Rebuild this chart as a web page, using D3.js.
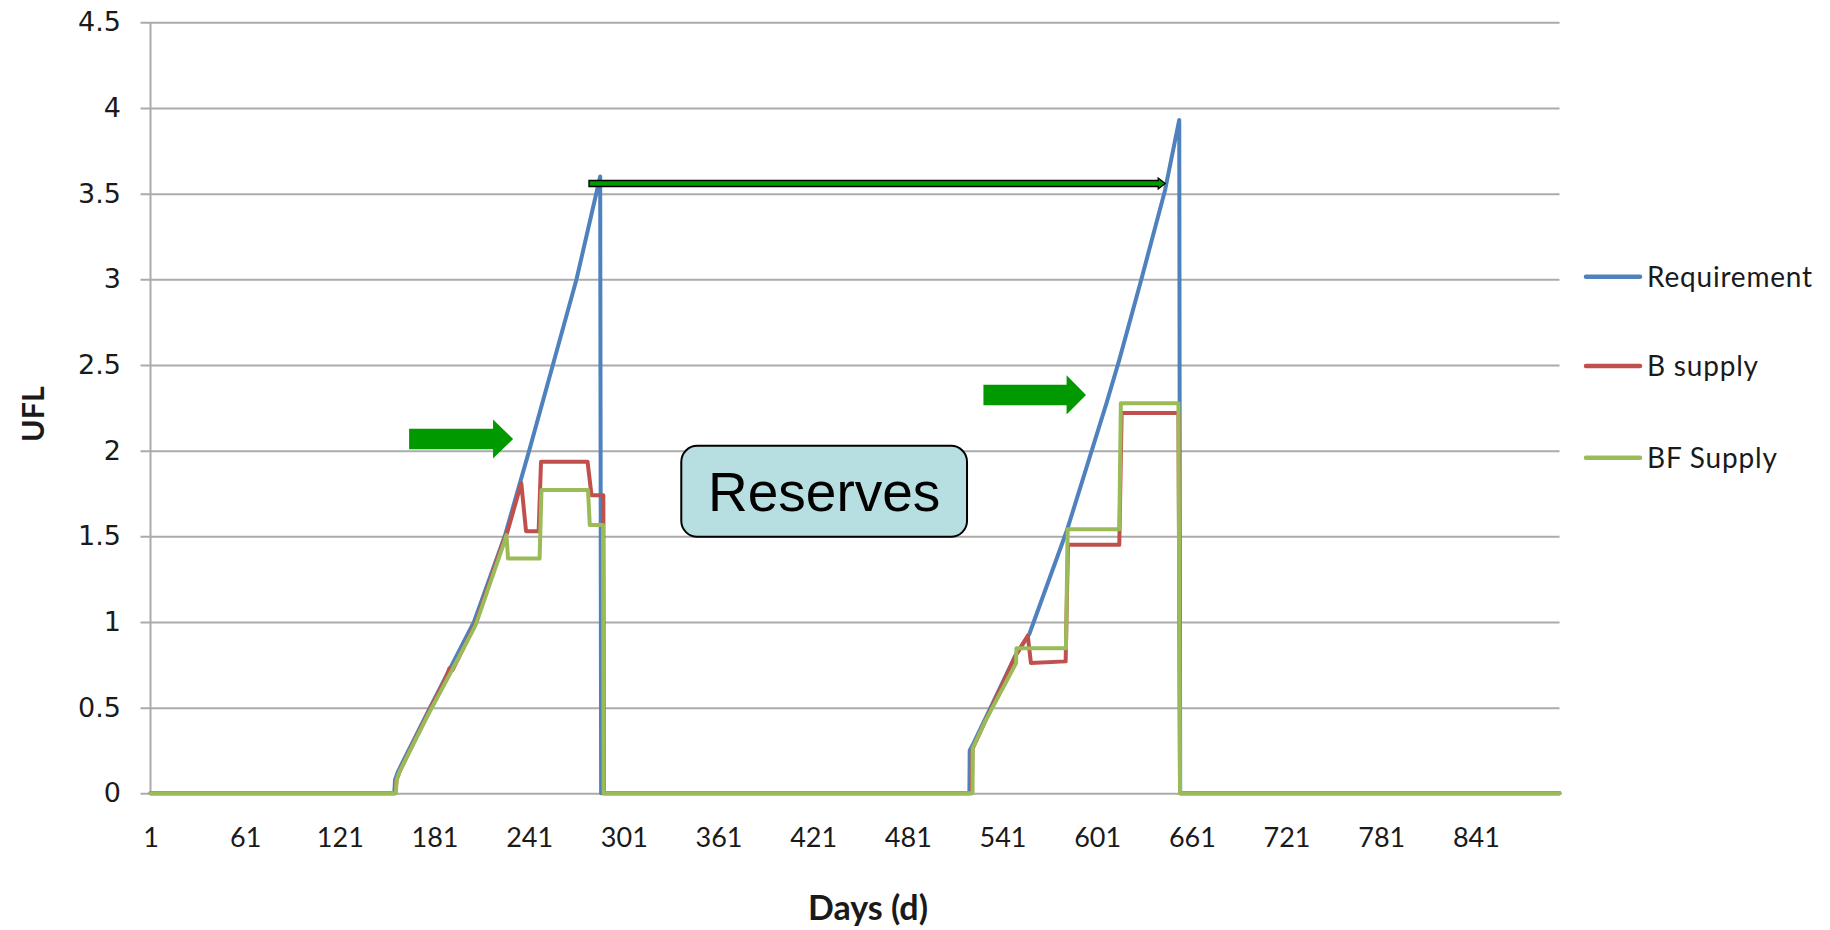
<!DOCTYPE html>
<html>
<head>
<meta charset="utf-8">
<script src="https://cdn.jsdelivr.net/npm/d3@7"></script>
<style>
  html, body { margin: 0; padding: 0; background: #ffffff; }
  svg { display: block; }
</style>
</head>
<body>
<svg id="chart" width="1830" height="930"></svg>
<script>
// Daily energy requirement vs. supply (UFL) over two production cycles
const xTickDays = [1, 61, 121, 181, 241, 301, 361, 421, 481, 541, 601, 661, 721, 781, 841];
const yTicks = [0, 0.5, 1, 1.5, 2, 2.5, 3, 3.5, 4, 4.5];
const seriesNames = ["Requirement", "B supply", "BF Supply"];
const seriesColors = ["#4F81BD", "#C0504D", "#9BBB59"];

const reqDays = [1, 155.5, 156, 158, 177, 206, 225.5, 241, 256, 271, 286, 286.6, 520, 520.2, 522, 549, 558, 582, 607, 615, 629, 644, 653, 653.6, 894];
const reqUFL  = [0, 0, 0.08, 0.13, 0.48, 1.0, 1.5, 2.0, 2.5, 3.0, 3.6, 0, 0, 0.25, 0.28, 0.8, 0.93, 1.54, 2.28, 2.53, 3.0, 3.52, 3.93, 0, 0];

const bDays = [1, 156, 157, 159, 177, 188, 190.5, 192.5, 207, 225, 227, 236, 239, 247, 248.5, 278, 280.5, 288, 288.4, 521.5, 522, 549, 557, 559, 581, 582.5, 615, 616.5, 652.5, 653.5, 894];
const bUFL  = [0, 0, 0.08, 0.13, 0.47, 0.67, 0.73, 0.72, 0.99, 1.48, 1.52, 1.81, 1.53, 1.53, 1.935, 1.935, 1.74, 1.74, 0, 0, 0.26, 0.8, 0.92, 0.76, 0.77, 1.45, 1.45, 2.22, 2.22, 0, 0];

const bfDays = [1, 156.5, 157, 159, 177, 191, 207, 225, 226.6, 227.6, 247.6, 248.8, 278.3, 279.4, 287.8, 288.2, 522, 522.1, 530, 549.6, 549.8, 581.2, 582.3, 615, 616, 652.5, 653.5, 894];
const bfUFL  = [0, 0, 0.08, 0.13, 0.46, 0.7, 0.98, 1.46, 1.507, 1.37, 1.37, 1.77, 1.77, 1.566, 1.566, 0, 0, 0.263, 0.42, 0.76, 0.846, 0.846, 1.541, 1.541, 2.276, 2.276, 0, 0];

// Annotation anchors in chart units (day, UFL)
const reserveArrow = { from: 278.9, to: 644.1, ufl: 3.559 };
const rampArrows = [
  { from: 164.9, bodyEnd: 218.1, tip: 230.8, ufl: 2.068 },
  { from: 528.9, bodyEnd: 581.6, tip: 593.9, ufl: 2.325 }
];
const reservesBox = { x0: 337.4, x1: 518.5, y0: 2.028, y1: 1.497, label: "Reserves" };

const svg = d3.select("#chart");
const plot = { left: 150.5, right: 1559.5, top: 22.3, bottom: 793.3 };

const x = d3.scaleLinear().domain([1, 894]).range([plot.left, plot.right]);
const y = d3.scaleLinear().domain([0, 4.5]).range([plot.bottom, plot.top]);

// Horizontal gridlines with short ticks on the left
const yAxis = d3.axisLeft(y)
  .tickValues(yTicks)
  .tickSize(-(plot.right - plot.left))
  .tickPadding(29.5)
  .tickFormat(d3.format("~g"));
const gy = svg.append("g").attr("transform", `translate(${plot.left},0)`).call(yAxis);
gy.select(".domain").remove();
gy.selectAll(".tick line")
  .attr("x1", -10)
  .attr("stroke", "#ababab")
  .attr("stroke-width", 2);
gy.selectAll(".tick text")
  .attr("font-family", "'DejaVu Sans', Verdana, sans-serif")
  .attr("font-size", 27)
  .attr("fill", "#1a1a1a");

// Vertical axis line
svg.append("line")
  .attr("x1", plot.left).attr("x2", plot.left)
  .attr("y1", plot.top).attr("y2", plot.bottom)
  .attr("stroke", "#ababab").attr("stroke-width", 2);

// Category labels along the bottom
const xAxis = d3.axisBottom(x)
  .tickValues(xTickDays)
  .tickSize(0)
  .tickPadding(35)
  .tickFormat(d3.format("d"));
const gx = svg.append("g").attr("transform", `translate(0,${plot.bottom})`).call(xAxis);
gx.select(".domain").remove();
gx.selectAll(".tick text")
  .attr("font-family", "Lato, 'Open Sans', sans-serif")
  .attr("font-size", 27)
  .attr("fill", "#1a1a1a");

// Series lines
const line = d3.line().x(d => x(d[0])).y(d => y(d[1]));
const seriesData = [
  d3.zip(reqDays, reqUFL),
  d3.zip(bDays, bUFL),
  d3.zip(bfDays, bfUFL)
];
seriesData.forEach((pts, i) => {
  svg.append("path")
    .datum(pts)
    .attr("d", line)
    .attr("fill", "none")
    .attr("stroke", seriesColors[i])
    .attr("stroke-width", 4)
    .attr("stroke-linejoin", "round")
    .attr("stroke-linecap", "round");
});

// Legend
const legend = svg.append("g").attr("font-family", "Lato, 'Open Sans', sans-serif");
const legendY = [276.7, 366, 457.7];
seriesNames.forEach((name, i) => {
  const g = legend.append("g").attr("transform", `translate(1586,${legendY[i]})`);
  g.append("line").attr("x1", 0).attr("x2", 54)
    .attr("stroke", seriesColors[i]).attr("stroke-width", 4.5).attr("stroke-linecap", "round");
  g.append("text").attr("x", 61).attr("dy", "0.35em")
    .attr("font-size", 28).attr("letter-spacing", 0.8)
    .attr("fill", "#1a1a1a").text(name);
});

// Axis titles
svg.append("text")
  .attr("transform", `translate(33,414) rotate(-90)`)
  .attr("text-anchor", "middle").attr("dy", "0.35em")
  .attr("font-family", "Lato, 'Open Sans', sans-serif")
  .attr("font-weight", "bold").attr("font-size", 30.5)
  .attr("fill", "#1a1a1a").text("UFL");
svg.append("text")
  .attr("x", 868).attr("y", 908)
  .attr("text-anchor", "middle").attr("dy", "0.35em")
  .attr("font-family", "Lato, 'Open Sans', sans-serif")
  .attr("font-weight", "bold").attr("font-size", 34)
  .attr("fill", "#1a1a1a").text("Days (d)");

// Reserves callout box
svg.append("rect")
  .attr("x", x(reservesBox.x0)).attr("y", y(reservesBox.y0))
  .attr("width", x(reservesBox.x1) - x(reservesBox.x0))
  .attr("height", y(reservesBox.y1) - y(reservesBox.y0))
  .attr("rx", 16).attr("ry", 16)
  .attr("fill", "#B7DEE0").attr("stroke", "#000").attr("stroke-width", 2);
svg.append("text")
  .attr("x", (x(reservesBox.x0) + x(reservesBox.x1)) / 2)
  .attr("y", (y(reservesBox.y0) + y(reservesBox.y1)) / 2)
  .attr("text-anchor", "middle").attr("dy", "0.36em")
  .attr("font-family", "'Liberation Sans', Arial, sans-serif")
  .attr("font-size", 55).attr("fill", "#000").text(reservesBox.label);

// Block arrows pointing at the ramp of each cycle
rampArrows.forEach(a => {
  const cy = y(a.ufl);
  const pts = [
    [x(a.from), cy - 10.3], [x(a.bodyEnd), cy - 10.3], [x(a.bodyEnd), cy - 19.6],
    [x(a.tip), cy], [x(a.bodyEnd), cy + 19.6], [x(a.bodyEnd), cy + 10.3], [x(a.from), cy + 10.3]
  ];
  svg.append("polygon").attr("points", pts.map(p => p.join(",")).join(" "))
    .attr("fill", "#009900");
});

// Thin outlined arrow spanning the reserve period
{
  const cy = y(reserveArrow.ufl);
  const x0 = x(reserveArrow.from), x1 = x(reserveArrow.to);
  const hb = x1 - 7;
  const pts = [
    [x0, cy - 3], [hb, cy - 3], [hb, cy - 5.5], [x1, cy],
    [hb, cy + 5.5], [hb, cy + 3], [x0, cy + 3]
  ];
  svg.append("polygon").attr("points", pts.map(p => p.join(",")).join(" "))
    .attr("fill", "#009900").attr("stroke", "#000").attr("stroke-width", 1.3)
    .attr("stroke-linejoin", "miter");
}
</script>
</body>
</html>
